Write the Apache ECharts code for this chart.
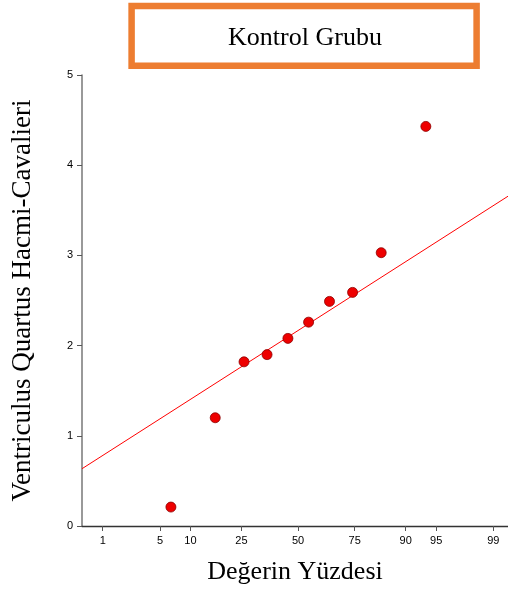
<!DOCTYPE html>
<html>
<head>
<meta charset="utf-8">
<script src="https://cdn.jsdelivr.net/npm/echarts@6/dist/echarts.min.js"></script>
<style>html,body{margin:0;padding:0;background:#fff}#c{width:508px;height:591px}</style>
</head>
<body>
<div id="c"></div>
<script>
// ---- data ----
var titleText = 'Kontrol Grubu';
var xAxisTitle = 'Değerin Yüzdesi';
var yAxisTitle = 'Ventriculus Quartus Hacmi-Cavalieri';
// plotting positions (percent) and measured values
var pointPct = [6.5, 16.2, 26.0, 35.6, 45.2, 55.0, 64.6, 74.2, 83.9, 93.6];
var pointVal = [0.21, 1.20, 1.82, 1.90, 2.08, 2.26, 2.49, 2.59, 3.03, 4.43];
// fitted reference line, two end points (percent, value)
var fitPct = [0.504, 99.38];
var fitVal = [0.635, 3.656];
// probability-axis tick labels (percent)
var xTickPct = [1, 5, 10, 25, 50, 75, 90, 95, 99];
var yTicks = [0, 1, 2, 3, 4, 5];

// inverse standard normal CDF (probability scale transform)
function probit(p) {
  var a = [-3.969683028665376e+01, 2.209460984245205e+02, -2.759285104469687e+02, 1.383577518672690e+02, -3.066479806614716e+01, 2.506628277459239e+00];
  var b = [-5.447609879822406e+01, 1.615858368580409e+02, -1.556989798598866e+02, 6.680131188771972e+01, -1.328068155288572e+01];
  var c = [-7.784894002430293e-03, -3.223964580411365e-01, -2.400758277161838e+00, -2.549732539343734e+00, 4.374664141464968e+00, 2.938163982698783e+00];
  var d = [7.784695709041462e-03, 3.224671290700398e-01, 2.445134137142996e+00, 3.754408661907416e+00];
  var pl = 0.02425, ph = 1 - pl, q, r;
  if (p < pl) { q = Math.sqrt(-2 * Math.log(p)); return (((((c[0]*q+c[1])*q+c[2])*q+c[3])*q+c[4])*q+c[5]) / ((((d[0]*q+d[1])*q+d[2])*q+d[3])*q+1); }
  if (p <= ph) { q = p - 0.5; r = q*q; return (((((a[0]*r+a[1])*r+a[2])*r+a[3])*r+a[4])*r+a[5])*q / (((((b[0]*r+b[1])*r+b[2])*r+b[3])*r+b[4])*r+1); }
  q = Math.sqrt(-2 * Math.log(1 - p)); return -(((((c[0]*q+c[1])*q+c[2])*q+c[3])*q+c[4])*q+c[5]) / ((((d[0]*q+d[1])*q+d[2])*q+d[3])*q+1);
}
function z(pct) { return probit(pct / 100); }

var xTickZ = xTickPct.map(z);
var points = pointPct.map(function (p, i) { return [z(p), pointVal[i]]; });
var fit = fitPct.map(function (p, i) { return [z(p), fitVal[i]]; });

var serif = "'Liberation Serif','Times New Roman',serif";
var sans = "'Liberation Sans',Arial,sans-serif";
var axisColor = '#555';

var chart = echarts.init(document.getElementById('c'), null, {renderer: 'canvas'});
chart.setOption({
  animation: false,
  backgroundColor: '#fff',
  title: {
    text: titleText, left: 300, top: 20, textAlign: 'center',
    textStyle: {fontFamily: serif, fontSize: 26, fontWeight: 'normal', color: '#000'}
  },
  graphic: [{
    type: 'rect', shape: {x: 131.6, y: 6, width: 345, height: 59.8},
    style: {fill: 'none', stroke: '#ED7D31', lineWidth: 6.5}, z: 10
  }],
  grid: {left: 82, right: 0, top: 75, bottom: 65, containLabel: false},
  xAxis: {
    type: 'value', min: z(fitPct[0]), max: z(fitPct[1]),
    name: xAxisTitle, nameLocation: 'middle', nameGap: 33,
    nameTextStyle: {fontFamily: serif, fontSize: 26, color: '#000'},
    axisLine: {show: true, onZero: false, lineStyle: {color: '#333', width: 1.3}},
    axisTick: {show: true, inside: false, length: 5, customValues: xTickZ, lineStyle: {color: axisColor}},
    axisLabel: {
      customValues: xTickZ, margin: 9, fontFamily: sans, fontSize: 11, color: '#000',
      formatter: function (v) {
        var best = 0, bd = Infinity;
        for (var i = 0; i < xTickZ.length; i++) { var dd = Math.abs(xTickZ[i] - v); if (dd < bd) { bd = dd; best = i; } }
        return String(xTickPct[best]);
      }
    },
    splitLine: {show: false}
  },
  yAxis: {
    type: 'value', min: yTicks[0], max: yTicks[yTicks.length - 1], interval: 1,
    name: yAxisTitle, nameLocation: 'middle', nameGap: 46,
    nameTextStyle: {fontFamily: serif, fontSize: 27, color: '#000'},
    axisLine: {show: true, onZero: false, lineStyle: {color: '#777', width: 1.5}},
    axisTick: {show: true, inside: false, length: 5, lineStyle: {color: axisColor}},
    axisLabel: {margin: 9, fontFamily: sans, fontSize: 11, color: '#000'},
    splitLine: {show: false}
  },
  series: [{
    type: 'line', data: fit, symbol: 'none', silent: true,
    lineStyle: {color: '#ff0000', width: 1}, z: 2
  }, {
    type: 'scatter', data: points, symbol: 'circle', symbolSize: 10,
    itemStyle: {color: '#ee0000', borderColor: '#8b0000', borderWidth: 0.8, opacity: 1}, z: 3
  }]
});
</script>
</body>
</html>
